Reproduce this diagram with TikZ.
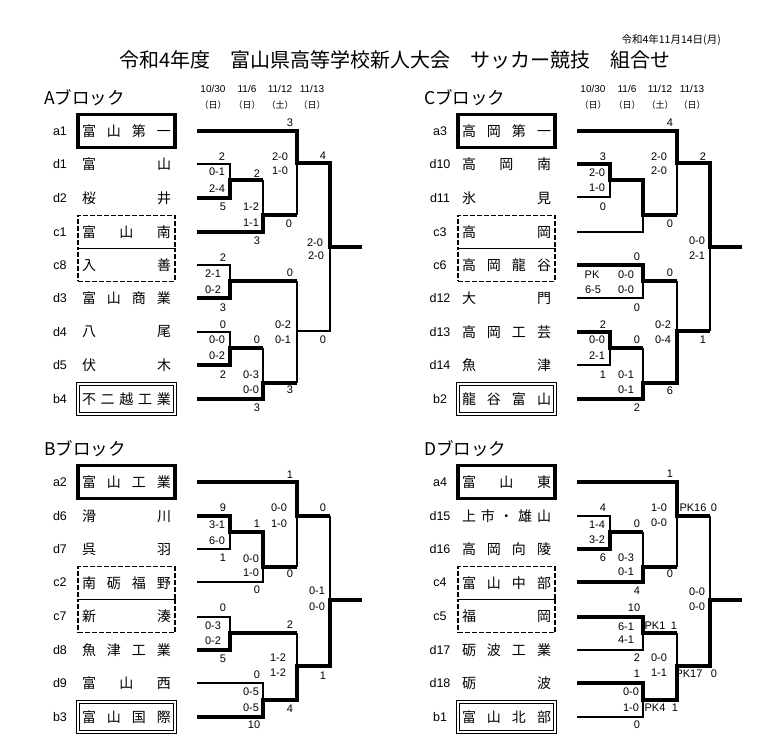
\documentclass[tikz,border=0pt]{standalone}
\usepackage{fontspec}
\setmainfont{Noto Sans CJK JP}
\newfontfamily\numfont{Liberation Sans}

\begin{document}
\begin{tikzpicture}[x=1pt,y=-1pt,
    win/.style={line width=3.8pt},
    lose/.style={line width=1.5pt},
    sc/.style={font=\numfont\fontsize{11}{11}\selectfont,inner sep=0pt},
    day/.style={font=\numfont\fontsize{10}{10}\selectfont,inner sep=0pt},
    wday/.style={font=\fontsize{9}{9}\selectfont,inner sep=0pt},
    seed/.style={font=\numfont\fontsize{12.5}{12.5}\selectfont,inner sep=0pt},
    block/.style={font=\fontsize{17.5}{17.5}\selectfont,anchor=west,inner sep=0pt},
    team/.style={font=\fontsize{14}{14}\selectfont,minimum width=97pt,minimum height=33pt,inner sep=0pt},
    topbox/.style={team,draw,line width=3.2pt},
    pairbox/.style={team,draw,line width=1.3pt,dash pattern=on 5pt off 2pt},
    dblbox/.style={team,draw,line width=0.9pt,double,double distance=1.8pt,minimum height=30pt}]
    \fill[white] (0,0) rectangle (777,743);
    \useasboundingbox (0,0) rectangle (777,743);

    \node[font=\fontsize{10.5}{10.5}\selectfont,anchor=east,inner sep=0pt] (date) at (721,40) {令和4年11月14日(月)};
    \node[font=\fontsize{20}{20}\selectfont,inner sep=0pt] (title) at (395,60) {令和4年度　富山県高等学校新人大会　サッカー競技　組合せ};

    % A block
    \node[block] (hA) at (44,98) {Aブロック};
    \node[day] (dA1) at (213,89) {10/30};
    \node[day] (dA2) at (247,89) {11/6};
    \node[day] (dA3) at (280,89) {11/12};
    \node[day] (dA4) at (312,89) {11/13};
    \node[wday] (wA1) at (213,105) {（日）};
    \node[wday] (wA2) at (247,105) {（日）};
    \node[wday] (wA3) at (280,105) {（土）};
    \node[wday] (wA4) at (312,105) {（日）};

    \node[seed] (la1) at (60,131) {a1};
    \node[seed] (ld1) at (60,164) {d1};
    \node[seed] (ld2) at (60,198) {d2};
    \node[seed] (lc1) at (60,232) {c1};
    \node[seed] (lc8) at (60,265) {c8};
    \node[seed] (ld3) at (60,298) {d3};
    \node[seed] (ld4) at (60,332) {d4};
    \node[seed] (ld5) at (60,365) {d5};
    \node[seed] (lb4) at (60,399) {b4};
    \node[topbox] (a1) at (126.5,131) {\makebox[89pt]{富\hfill 山\hfill 第\hfill 一}};
    \node[team] (d1) at (126.5,164) {\makebox[89pt]{富\hfill 山}};
    \node[team] (d2) at (126.5,198) {\makebox[89pt]{桜\hfill 井}};
    \node[pairbox] (c1) at (126.5,232) {\makebox[89pt]{富\hfill 山\hfill 南}};
    \node[pairbox] (c8) at (126.5,265) {\makebox[89pt]{入\hfill 善}};
    \node[team] (d3) at (126.5,298) {\makebox[89pt]{富\hfill 山\hfill 商\hfill 業}};
    \node[team] (d4) at (126.5,332) {\makebox[89pt]{八\hfill 尾}};
    \node[team] (d5) at (126.5,365) {\makebox[89pt]{伏\hfill 木}};
    \node[dblbox] (b4) at (126.5,399) {\makebox[89pt]{不\hfill 二\hfill 越\hfill 工\hfill 業}};

    \draw[win] (197,131) -- (297,131) -- (297,163) -- (330,163) -- (330,247) -- (362,247);
    \draw[win] (197,198) -- (230,198) -- (230,180) -- (263,180);
    \draw[win] (197,232) -- (263,232) -- (263,215) -- (297,215);
    \draw[win] (197,298) -- (230,298) -- (230,281) -- (297,281);
    \draw[win] (197,365) -- (230,365) -- (230,348) -- (263,348);
    \draw[win] (197,399) -- (263,399) -- (263,383) -- (297,383);
    \draw[lose] (197,164) -- (230,164) -- (230,180);
    \draw[lose] (263,180) -- (263,215);
    \draw[lose] (297,163) -- (297,215);
    \draw[lose] (197,265) -- (230,265) -- (230,281);
    \draw[lose] (197,332) -- (230,332) -- (230,348);
    \draw[lose] (263,348) -- (263,383);
    \draw[lose] (297,281) -- (297,383);
    \draw[lose] (297,331) -- (330,331) -- (330,247);

    \node[sc] (sA1) at (290,123) {3};
    \node[sc] (sA2) at (323,156) {4};
    \node[sc] (sA3) at (280,157) {2-0};
    \node[sc] (sA4) at (280,171) {1-0};
    \node[sc] (sA5) at (222,157) {2};
    \node[sc] (sA6) at (217,172) {0-1};
    \node[sc] (sA7) at (217,189) {2-4};
    \node[sc] (sA8) at (223,207) {5};
    \node[sc] (sA9) at (257,174) {2};
    \node[sc] (sA10) at (251,207) {1-2};
    \node[sc] (sA11) at (251,223) {1-1};
    \node[sc] (sA12) at (257,241) {3};
    \node[sc] (sA13) at (289,224) {0};
    \node[sc] (sA14) at (315,243) {2-0};
    \node[sc] (sA15) at (316,256) {2-0};
    \node[sc] (sA16) at (223,258) {2};
    \node[sc] (sA17) at (213,274) {2-1};
    \node[sc] (sA18) at (213,290) {0-2};
    \node[sc] (sA19) at (223,308) {3};
    \node[sc] (sA20) at (290,273) {0};
    \node[sc] (sA21) at (223,325) {0};
    \node[sc] (sA22) at (217,340) {0-0};
    \node[sc] (sA23) at (217,356) {0-2};
    \node[sc] (sA24) at (223,375) {2};
    \node[sc] (sA25) at (257,340) {0};
    \node[sc] (sA26) at (251,375) {0-3};
    \node[sc] (sA27) at (251,390) {0-0};
    \node[sc] (sA28) at (257,408) {3};
    \node[sc] (sA29) at (290,390) {3};
    \node[sc] (sA30) at (283,325) {0-2};
    \node[sc] (sA31) at (283,340) {0-1};
    \node[sc] (sA32) at (323,340) {0};

    % C block
    \begin{scope}[xshift=380pt]
    \node[block] (hC) at (44,98) {Cブロック};
    \node[day] (dC1) at (213,89) {10/30};
    \node[day] (dC2) at (247,89) {11/6};
    \node[day] (dC3) at (280,89) {11/12};
    \node[day] (dC4) at (312,89) {11/13};
    \node[wday] (wC1) at (213,105) {（日）};
    \node[wday] (wC2) at (247,105) {（日）};
    \node[wday] (wC3) at (280,105) {（土）};
    \node[wday] (wC4) at (312,105) {（日）};

    \node[seed] (la3) at (60,131) {a3};
    \node[seed] (ld10) at (60,164) {d10};
    \node[seed] (ld11) at (60,198) {d11};
    \node[seed] (lc3) at (60,232) {c3};
    \node[seed] (lc6) at (60,265) {c6};
    \node[seed] (ld12) at (60,298) {d12};
    \node[seed] (ld13) at (60,332) {d13};
    \node[seed] (ld14) at (60,365) {d14};
    \node[seed] (lb2) at (60,399) {b2};
    \node[topbox] (a3) at (126.5,131) {\makebox[89pt]{高\hfill 岡\hfill 第\hfill 一}};
    \node[team] (d10) at (126.5,164) {\makebox[89pt]{高\hfill 岡\hfill 南}};
    \node[team] (d11) at (126.5,198) {\makebox[89pt]{氷\hfill 見}};
    \node[pairbox] (c3) at (126.5,232) {\makebox[89pt]{高\hfill 岡}};
    \node[pairbox] (c6) at (126.5,265) {\makebox[89pt]{高\hfill 岡\hfill 龍\hfill 谷}};
    \node[team] (d12) at (126.5,298) {\makebox[89pt]{大\hfill 門}};
    \node[team] (d13) at (126.5,332) {\makebox[89pt]{高\hfill 岡\hfill 工\hfill 芸}};
    \node[team] (d14) at (126.5,365) {\makebox[89pt]{魚\hfill 津}};
    \node[dblbox] (b2) at (126.5,399) {\makebox[89pt]{龍\hfill 谷\hfill 富\hfill 山}};

    \draw[win] (197,131) -- (297,131) -- (297,163) -- (330,163) -- (330,247) -- (362,247);
    \draw[win] (197,164) -- (230,164) -- (230,180) -- (263,180) -- (263,215) -- (297,215);
    \draw[win] (197,265) -- (263,265) -- (263,281) -- (297,281);
    \draw[win] (197,332) -- (230,332) -- (230,348) -- (263,348);
    \draw[win] (197,399) -- (263,399) -- (263,383) -- (297,383) -- (297,331) -- (330,331);
    \draw[lose] (197,197) -- (230,197) -- (230,180);
    \draw[lose] (197,232) -- (263,232) -- (263,215);
    \draw[lose] (297,163) -- (297,215);
    \draw[lose] (197,298) -- (263,298) -- (263,281);
    \draw[lose] (197,365) -- (230,365) -- (230,348);
    \draw[lose] (263,348) -- (263,383);
    \draw[lose] (297,281) -- (297,331);
    \draw[lose] (330,247) -- (330,331);

    \node[sc] (sC1) at (290,123) {4};
    \node[sc] (sC2) at (323,157) {2};
    \node[sc] (sC3) at (279,157) {2-0};
    \node[sc] (sC4) at (279,171) {2-0};
    \node[sc] (sC5) at (223,157) {3};
    \node[sc] (sC6) at (217,173) {2-0};
    \node[sc] (sC7) at (217,188) {1-0};
    \node[sc] (sC8) at (223,207) {0};
    \node[sc] (sC9) at (290,224) {0};
    \node[sc] (sC10) at (317,241) {0-0};
    \node[sc] (sC11) at (317,256) {2-1};
    \node[sc] (sC12) at (257,257) {0};
    \node[sc] (sC13) at (212,275) {PK};
    \node[sc] (sC14) at (213,290) {6-5};
    \node[sc] (sC15) at (246,275) {0-0};
    \node[sc] (sC16) at (246,290) {0-0};
    \node[sc] (sC17) at (290,273) {0};
    \node[sc] (sC18) at (257,308) {0};
    \node[sc] (sC19) at (223,325) {2};
    \node[sc] (sC20) at (283,325) {0-2};
    \node[sc] (sC21) at (283,340) {0-4};
    \node[sc] (sC22) at (217,340) {0-0};
    \node[sc] (sC23) at (217,356) {2-1};
    \node[sc] (sC24) at (257,340) {0};
    \node[sc] (sC25) at (323,340) {1};
    \node[sc] (sC26) at (223,375) {1};
    \node[sc] (sC27) at (246,375) {0-1};
    \node[sc] (sC28) at (246,390) {0-1};
    \node[sc] (sC29) at (290,391) {6};
    \node[sc] (sC30) at (257,408) {2};
    \end{scope}

    % B block
    \node[block] (hB) at (44,449) {Bブロック};
    \node[seed] (la2) at (60,482) {a2};
    \node[seed] (ld6) at (60,516) {d6};
    \node[seed] (ld7) at (60,549) {d7};
    \node[seed] (lc2) at (60,582) {c2};
    \node[seed] (lc7) at (60,616) {c7};
    \node[seed] (ld8) at (60,650) {d8};
    \node[seed] (ld9) at (60,683) {d9};
    \node[seed] (lb3) at (60,717) {b3};
    \node[topbox] (a2) at (126.5,482) {\makebox[89pt]{富\hfill 山\hfill 工\hfill 業}};
    \node[team] (d6) at (126.5,516) {\makebox[89pt]{滑\hfill 川}};
    \node[team] (d7) at (126.5,549) {\makebox[89pt]{呉\hfill 羽}};
    \node[pairbox] (c2) at (126.5,583) {\makebox[89pt]{南\hfill 砺\hfill 福\hfill 野}};
    \node[pairbox] (c7) at (126.5,616) {\makebox[89pt]{新\hfill 湊}};
    \node[team] (d8) at (126.5,650) {\makebox[89pt]{魚\hfill 津\hfill 工\hfill 業}};
    \node[team] (d9) at (126.5,683) {\makebox[89pt]{富\hfill 山\hfill 西}};
    \node[dblbox] (b3) at (126.5,717) {\makebox[89pt]{富\hfill 山\hfill 国\hfill 際}};

    \draw[win] (197,482) -- (297,482) -- (297,516) -- (330,516);
    \draw[win] (197,516) -- (230,516) -- (230,532) -- (263,532) -- (263,567) -- (297,567);
    \draw[win] (197,650) -- (230,650) -- (230,633) -- (297,633);
    \draw[win] (197,717) -- (263,717) -- (263,700) -- (297,700) -- (297,666) -- (330,666) -- (330,600) -- (362,600);
    \draw[lose] (197,549) -- (230,549) -- (230,532);
    \draw[lose] (197,582) -- (263,582) -- (263,567);
    \draw[lose] (297,516) -- (297,567);
    \draw[lose] (330,516) -- (330,600);
    \draw[lose] (197,617) -- (230,617) -- (230,633);
    \draw[lose] (197,683) -- (263,683) -- (263,700);
    \draw[lose] (297,633) -- (297,666);

    \node[sc] (sB1) at (290,475) {1};
    \node[sc] (sB2) at (279,508) {0-0};
    \node[sc] (sB3) at (279,524) {1-0};
    \node[sc] (sB4) at (323,508) {0};
    \node[sc] (sB5) at (223,508) {9};
    \node[sc] (sB6) at (217,525) {3-1};
    \node[sc] (sB7) at (217,541) {6-0};
    \node[sc] (sB8) at (257,524) {1};
    \node[sc] (sB9) at (223,558) {1};
    \node[sc] (sB10) at (251,559) {0-0};
    \node[sc] (sB11) at (251,573) {1-0};
    \node[sc] (sB12) at (290,574) {0};
    \node[sc] (sB13) at (257,590) {0};
    \node[sc] (sB14) at (317,591) {0-1};
    \node[sc] (sB15) at (317,607) {0-0};
    \node[sc] (sB16) at (223,608) {0};
    \node[sc] (sB17) at (213,626) {0-3};
    \node[sc] (sB18) at (213,641) {0-2};
    \node[sc] (sB19) at (290,625) {2};
    \node[sc] (sB20) at (223,659) {5};
    \node[sc] (sB21) at (278,658) {1-2};
    \node[sc] (sB22) at (278,673) {1-2};
    \node[sc] (sB23) at (323,676) {1};
    \node[sc] (sB24) at (257,675) {0};
    \node[sc] (sB25) at (251,692) {0-5};
    \node[sc] (sB26) at (251,708) {0-5};
    \node[sc] (sB27) at (290,709) {4};
    \node[sc] (sB28) at (254,725) {10};

    % D block
    \begin{scope}[xshift=380pt]
    \node[block] (hD) at (44,449) {Dブロック};
    \node[seed] (la4) at (60,482) {a4};
    \node[seed] (ld15) at (60,516) {d15};
    \node[seed] (ld16) at (60,549) {d16};
    \node[seed] (lc4) at (60,582) {c4};
    \node[seed] (lc5) at (60,616) {c5};
    \node[seed] (ld17) at (60,650) {d17};
    \node[seed] (ld18) at (60,683) {d18};
    \node[seed] (lb1) at (60,717) {b1};
    \node[topbox] (a4) at (126.5,482) {\makebox[89pt]{富\hfill 山\hfill 東}};
    \node[team] (d15) at (126.5,516) {\makebox[89pt]{上\hfill 市\hfill ・\hfill 雄\hfill 山}};
    \node[team] (d16) at (126.5,549) {\makebox[89pt]{高\hfill 岡\hfill 向\hfill 陵}};
    \node[pairbox] (c4) at (126.5,583) {\makebox[89pt]{富\hfill 山\hfill 中\hfill 部}};
    \node[pairbox] (c5) at (126.5,616) {\makebox[89pt]{福\hfill 岡}};
    \node[team] (d17) at (126.5,650) {\makebox[89pt]{砺\hfill 波\hfill 工\hfill 業}};
    \node[team] (d18) at (126.5,683) {\makebox[89pt]{砺\hfill 波}};
    \node[dblbox] (b1) at (126.5,717) {\makebox[89pt]{富\hfill 山\hfill 北\hfill 部}};

    \draw[win] (197,482) -- (297,482) -- (297,516) -- (330,516);
    \draw[win] (197,549) -- (230,549) -- (230,532) -- (263,532);
    \draw[win] (197,582) -- (263,582) -- (263,567) -- (297,567);
    \draw[win] (197,617) -- (263,617) -- (263,633) -- (297,633);
    \draw[win] (197,683) -- (263,683) -- (263,700) -- (297,700) -- (297,666) -- (330,666) -- (330,600) -- (362,600);
    \draw[lose] (197,516) -- (230,516) -- (230,532);
    \draw[lose] (263,532) -- (263,567);
    \draw[lose] (297,516) -- (297,567);
    \draw[lose] (330,516) -- (330,600);
    \draw[lose] (197,650) -- (263,650) -- (263,633);
    \draw[lose] (197,717) -- (263,717) -- (263,700);
    \draw[lose] (297,633) -- (297,666);

    \node[sc] (sD1) at (290,474) {1};
    \node[sc] (sD2) at (279,508) {1-0};
    \node[sc] (sD3) at (279,523) {0-0};
    \node[sc] (sD4) at (313,508) {PK16};
    \node[sc] (sD5) at (334,508) {0};
    \node[sc] (sD6) at (223,508) {4};
    \node[sc] (sD7) at (217,525) {1-4};
    \node[sc] (sD8) at (217,540) {3-2};
    \node[sc] (sD9) at (257,524) {0};
    \node[sc] (sD10) at (223,558) {6};
    \node[sc] (sD11) at (246,558) {0-3};
    \node[sc] (sD12) at (246,572) {0-1};
    \node[sc] (sD13) at (290,574) {0};
    \node[sc] (sD14) at (257,591) {4};
    \node[sc] (sD15) at (317,592) {0-0};
    \node[sc] (sD16) at (317,607) {0-0};
    \node[sc] (sD17) at (254,608) {10};
    \node[sc] (sD18) at (246,627) {6-1};
    \node[sc] (sD19) at (246,640) {4-1};
    \node[sc] (sD20) at (275,626) {PK1};
    \node[sc] (sD21) at (294,626) {1};
    \node[sc] (sD22) at (257,658) {2};
    \node[sc] (sD23) at (279,658) {0-0};
    \node[sc] (sD24) at (279,673) {1-1};
    \node[sc] (sD25) at (257,674) {1};
    \node[sc] (sD26) at (309,674) {PK17};
    \node[sc] (sD27) at (334,674) {0};
    \node[sc] (sD28) at (251,692) {0-0};
    \node[sc] (sD29) at (251,708) {1-0};
    \node[sc] (sD30) at (275,708) {PK4};
    \node[sc] (sD31) at (295,708) {1};
    \node[sc] (sD32) at (257,725) {0};
    \end{scope}
\end{tikzpicture}
\end{document}
